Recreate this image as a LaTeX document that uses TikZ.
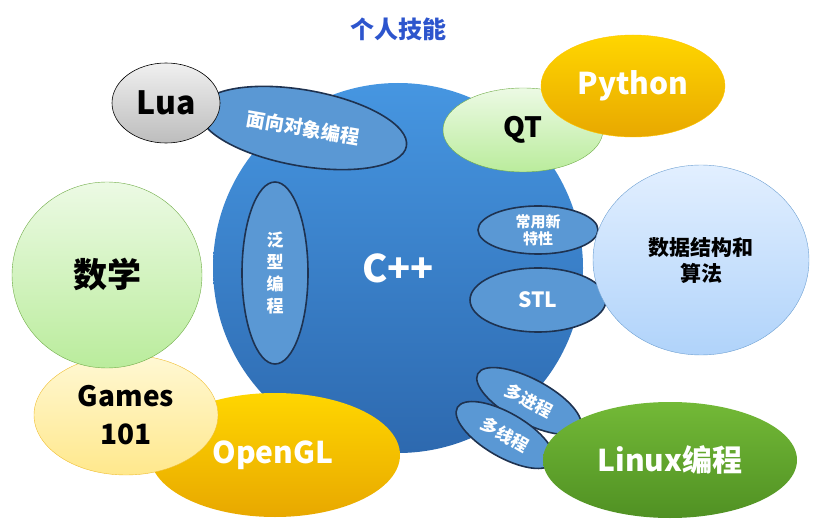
\documentclass[tikz,border=0pt]{standalone}
\usepackage{fontspec}
\setmainfont{Noto Sans CJK SC}[BoldFont={Noto Sans CJK SC Black}]
\usepackage{tikz}
\usetikzlibrary{shapes.geometric}
\usepackage{xcolor}

\definecolor{titleblue}{RGB}{45,85,205}
\definecolor{cpptop}{RGB}{70,150,225}
\definecolor{cppbot}{RGB}{45,105,175}
\definecolor{subfill}{RGB}{90,152,212}
\definecolor{subedge}{RGB}{30,50,80}
\definecolor{greentop}{RGB}{236,250,228}
\definecolor{greenbot}{RGB}{186,236,156}
\definecolor{greenedge}{RGB}{112,172,72}
\definecolor{goldtop}{RGB}{255,214,0}
\definecolor{goldbot}{RGB}{232,168,0}
\definecolor{bluetop}{RGB}{226,239,255}
\definecolor{bluebot}{RGB}{176,211,250}
\definecolor{blueedge}{RGB}{110,160,210}
\definecolor{yellowtop}{RGB}{255,248,212}
\definecolor{yellowbot}{RGB}{255,232,140}
\definecolor{yellowedge}{RGB}{240,190,50}
\definecolor{linuxtop}{RGB}{115,185,55}
\definecolor{linuxbot}{RGB}{80,145,35}

\begin{document}
\begin{tikzpicture}[
    x=1pt, y=-1pt,
    oval/.style={ellipse, inner sep=0pt, align=center, font=\bfseries},
    sub/.style={oval, fill=subfill, draw=subedge, line width=1.6pt, text=white},
    fs/.style={font=\bfseries\fontsize{#1}{#1}\selectfont}
]
\useasboundingbox (0,0) rectangle (814,529);

% Title
\node[fs=24, text=titleblue] (title) at (398,29) {个人技能};

% Main circle
\node[oval, top color=cpptop, bottom color=cppbot, minimum width=370pt, minimum height=370pt, text=white, fs=38] (cpp) at (398,268) {C++};

% Sub topics inside C++
\node[sub, minimum width=210pt, minimum height=76pt, rotate=-10, fs=19] (oop) at (303,128) {面向对象编程};
\node[oval, draw=black, line width=0.6pt, top color=white!94!black, bottom color=white!74!black, minimum width=108pt, minimum height=80pt, fs=32] (lua) at (166,103) {Lua};
\node[sub, minimum width=66pt, minimum height=182pt, font=\bfseries\fontsize{17}{22}\selectfont] (generic) at (275,273) {泛\\型\\编\\程};

% Upper right
\node[oval, draw=greenedge, top color=greentop, bottom color=greenbot, minimum width=160pt, minimum height=84pt, fs=28] (qt) at (523,130) {QT};
\node[oval, draw=goldtop!80!orange, top color=goldtop, bottom color=goldbot, minimum width=184pt, minimum height=102pt, text=white, fs=30] (python) at (633,86) {Python};

% Right side
\node[sub, minimum width=120pt, minimum height=48pt, font=\bfseries\fontsize{15}{17}\selectfont] (newfeat) at (538,230) {常用新\\特性};
\node[sub, minimum width=136pt, minimum height=64pt, fs=21] (stl) at (538,300) {STL};
\node[oval, draw=blueedge, top color=bluetop, bottom color=bluebot, minimum width=216pt, minimum height=190pt, font=\bfseries\fontsize{21}{26}\selectfont] (algo) at (701,260) {数据结构和\\算法};

% Lower right
\node[sub, minimum width=116pt, minimum height=44pt, rotate=-28, fs=17] (proc) at (529,401) {多进程};
\node[sub, minimum width=110pt, minimum height=44pt, rotate=-30, fs=17] (thread) at (505,435) {多线程};
\node[oval, top color=linuxtop, bottom color=linuxbot, minimum width=254pt, minimum height=116pt, text=white, fs=30] (linux) at (670,460) {Linux编程};

% Left side
\node[oval, top color=goldtop, bottom color=goldbot, minimum width=250pt, minimum height=124pt, text=white, fs=30] (opengl) at (275,455) {\hspace*{-4pt}OpenGL};
\node[oval, draw=yellowedge, top color=yellowtop, bottom color=yellowbot, minimum width=184pt, minimum height=120pt, font=\bfseries\fontsize{28}{38}\selectfont] (games) at (126,415) {Games\\101};
\node[oval, draw=greenedge, top color=greentop, bottom color=greenbot, minimum width=190pt, minimum height=186pt, fs=34] (math) at (107,275) {数学};

\end{tikzpicture}
\end{document}
